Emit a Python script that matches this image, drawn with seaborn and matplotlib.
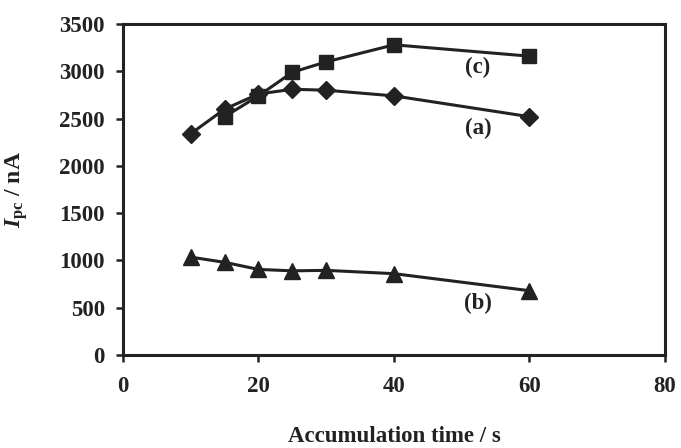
import matplotlib
matplotlib.use("Agg")
import matplotlib.pyplot as plt
import seaborn as sns
import pandas as pd

# Data
time_a = [10, 15, 20, 25, 30, 40, 60]
ipc_a = [2340, 2600, 2760, 2810, 2800, 2740, 2520]
time_b = [10, 15, 20, 25, 30, 40, 60]
ipc_b = [1035, 980, 905, 890, 895, 860, 680]
time_c = [15, 20, 25, 30, 40, 60]
ipc_c = [2520, 2740, 2990, 3100, 3280, 3160]

labels = ["(a)", "(b)", "(c)"]
label_x = [52.4, 52.4, 52.4]
label_y = [2400, 545, 3040]

x_ticks = [0, 20, 40, 60, 80]
y_ticks = [0, 500, 1000, 1500, 2000, 2500, 3000, 3500]

sns.set_theme(style="white")
plt.rcParams['font.family'] = ['Liberation Serif', 'DejaVu Serif']
plt.rcParams['font.weight'] = 'bold'
plt.rcParams['mathtext.fontset'] = 'custom'
plt.rcParams['mathtext.rm'] = 'Liberation Serif:bold'
plt.rcParams['mathtext.it'] = 'Liberation Serif:italic:bold'
plt.rcParams['mathtext.bf'] = 'Liberation Serif:bold'

ink = '#222222'
fig = plt.figure(figsize=(6.81, 4.48), dpi=100)
ax = fig.add_axes([0.1806, 0.2076, 0.7959, 0.7388])

series = [
    (time_a, ipc_a, 'D', 8.8),
    (time_b, ipc_b, '^', 11.5),
    (time_c, ipc_c, 's', 10.0),
]
for xs, ys, mk, ms in series:
    df = pd.DataFrame({"t": xs, "i": ys})
    sns.lineplot(data=df, x="t", y="i", ax=ax, color=ink, linewidth=2.2,
                 marker=mk, markersize=ms, markeredgecolor=ink,
                 markerfacecolor=ink, markeredgewidth=1.0)

for lab, lx, ly in zip(labels, label_x, label_y):
    ax.text(lx, ly, lab, ha='center', va='center', fontsize=16.5,
            fontweight='bold', color=ink)

ax.set_xlim(0, 80)
ax.set_ylim(0, 3500)
ax.set_xticks(x_ticks)
ax.set_yticks(y_ticks)
ax.tick_params(axis='both', direction='out', length=5, width=1.8,
               colors=ink, labelsize=16.5, pad=8)
ax.tick_params(axis='x', pad=10)
ax.tick_params(left=True, bottom=True)
for lbl in ax.get_xticklabels() + ax.get_yticklabels():
    lbl.set_fontweight('bold')
for sp in ax.spines.values():
    sp.set_visible(True)
    sp.set_color(ink)
    sp.set_linewidth(2.2)

ax.set_xlabel("Accumulation time / s", fontsize=16.5, fontweight='bold',
              color=ink, labelpad=21)
ax.set_ylabel(r"$I_{\mathrm{pc}}$ / nA", fontsize=17, fontweight='bold',
              color=ink, labelpad=21)

fig.savefig("out.png", dpi=100)
